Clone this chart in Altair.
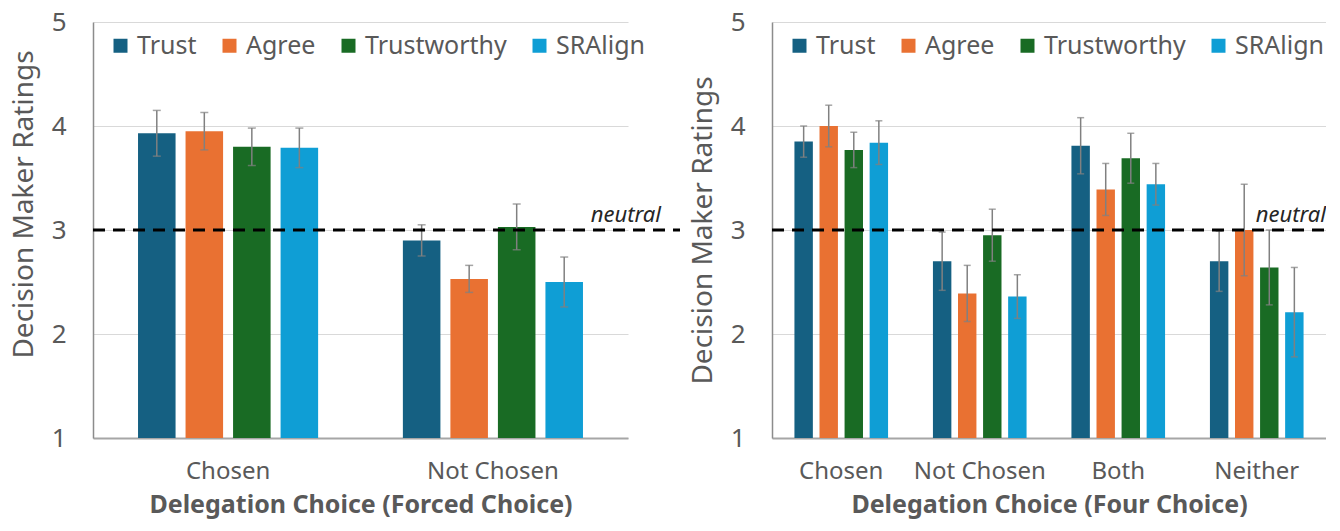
import altair as alt
import pandas as pd

series = ["Trust", "Agree", "Trustworthy", "SRAlign"]
colors = ["#156082", "#E97132", "#196B24", "#0F9ED5"]

# Forced choice panel
forced_cats = ["Chosen", "Not Chosen"]
forced_trust = [3.93, 2.90]
forced_agree = [3.95, 2.53]
forced_trustworthy = [3.80, 3.03]
forced_sralign = [3.79, 2.50]
forced_trust_err = [0.22, 0.15]
forced_agree_err = [0.18, 0.13]
forced_trustworthy_err = [0.18, 0.22]
forced_sralign_err = [0.19, 0.24]

# Four choice panel
four_cats = ["Chosen", "Not Chosen", "Both", "Neither"]
four_trust = [3.85, 2.70, 3.81, 2.70]
four_agree = [4.00, 2.39, 3.39, 3.00]
four_trustworthy = [3.77, 2.95, 3.69, 2.64]
four_sralign = [3.84, 2.36, 3.44, 2.21]
four_trust_err = [0.15, 0.28, 0.27, 0.29]
four_agree_err = [0.20, 0.27, 0.25, 0.44]
four_trustworthy_err = [0.17, 0.25, 0.24, 0.36]
four_sralign_err = [0.21, 0.21, 0.20, 0.43]

neutral_value = [3]

FONT = "Noto Sans"
GREY = "#595959"
PLOT_H = 416


def make_df(cats, vals, errs):
    rows = []
    for s, v, e in zip(series, vals, errs):
        for c, m, er in zip(cats, v, e):
            rows.append({"cat": c, "series": s, "mean": m, "lo": m - er, "hi": m + er})
    return pd.DataFrame(rows)


def panel(df, cats, width, pad_in, pad_out, off_pad, cap, xtitle, rule_end, neutral_x,
          leg_x, leg_y, ytitle_y=None):
    ytitle = "Decision Maker Ratings"
    yscale = alt.Scale(domain=[1, 5], nice=False, zero=False)
    axis_kw = dict(values=[1, 2, 3, 4, 5], format="d", title=ytitle)
    if ytitle_y is not None:
        axis_kw["titleY"] = ytitle_y
    yaxis = alt.Axis(**axis_kw)
    xenc = alt.X("cat:N", sort=cats,
                 scale=alt.Scale(paddingInner=pad_in, paddingOuter=pad_out),
                 axis=alt.Axis(title=xtitle, labelAngle=0))
    offenc = alt.XOffset("series:N", sort=series,
                         scale=alt.Scale(paddingInner=off_pad, paddingOuter=0))
    base = alt.Chart(df).encode(x=xenc, xOffset=offenc)

    bars = base.mark_bar().encode(
        y=alt.Y("mean:Q", scale=yscale, axis=yaxis, title=ytitle),
        y2=alt.datum(1),
        color=alt.Color("series:N", sort=series,
                        scale=alt.Scale(domain=series, range=colors),
                        legend=alt.Legend(orient="none", legendX=leg_x, legendY=leg_y,
                                          direction="horizontal", columns=4, title=None,
                                          symbolType="square", symbolSize=196,
                                          symbolStrokeWidth=0, labelFontSize=25,
                                          labelColor=GREY, labelFont=FONT,
                                          columnPadding=20, labelOffset=4)),
    )
    err = base.mark_rule(color="#808080", strokeWidth=1.5).encode(
        y=alt.Y("lo:Q", scale=yscale, title=ytitle), y2="hi:Q")
    cap_lo = base.mark_tick(color="#808080", thickness=1.5, size=cap).encode(
        y=alt.Y("lo:Q", scale=yscale, title=ytitle))
    cap_hi = base.mark_tick(color="#808080", thickness=1.5, size=cap).encode(
        y=alt.Y("hi:Q", scale=yscale, title=ytitle))

    ndf = pd.DataFrame({"v": neutral_value})
    nrule = alt.Chart(ndf).mark_rule(color="black", strokeWidth=3, strokeDash=[12, 8]).encode(
        y=alt.Y("v:Q", scale=yscale, title=ytitle), x=alt.value(0), x2=alt.value(rule_end))
    ntext = alt.Chart(ndf).mark_text(text="neutral", align="right", baseline="bottom",
                                     fontStyle="italic", fontSize=22, font=FONT,
                                     color="#262626", dy=-3).encode(
        y=alt.Y("v:Q", scale=yscale, title=ytitle), x=alt.value(neutral_x))

    return alt.layer(bars, err, cap_lo, cap_hi, nrule, ntext).properties(width=width, height=PLOT_H)


forced_df = make_df(forced_cats,
                    [forced_trust, forced_agree, forced_trustworthy, forced_sralign],
                    [forced_trust_err, forced_agree_err, forced_trustworthy_err, forced_sralign_err])
four_df = make_df(four_cats,
                  [four_trust, four_agree, four_trustworthy, four_sralign],
                  [four_trust_err, four_agree_err, four_trustworthy_err, four_sralign_err])

left = panel(forced_df, forced_cats, 535, 0.32, 0.17, 0.21, 8,
             "Delegation Choice (Forced Choice)", 587, 568, 15, 11, ytitle_y=182)
right = panel(four_df, four_cats, 554, 0.324, 0.162, 0.265, 7,
              "Delegation Choice (Four Choice)", 552, 554, 15, 11)

chart = alt.hconcat(left, right, spacing=7).resolve_scale(
    x="independent", xOffset="independent", y="independent", color="independent"
).resolve_legend(color="independent").properties(
    padding={"left": 2, "top": 1, "right": 0, "bottom": 4}
).configure_view(stroke=None).configure_axis(
    labelFont=FONT, titleFont=FONT, labelColor=GREY, titleColor=GREY,
).configure_axisY(
    labelFontSize=26, titleFontSize=28, titleFontWeight="normal",
    labelPadding=27, titlePadding=13, ticks=False,
    grid=True, gridColor="#d9d9d9", gridWidth=1,
    domain=True, domainColor="#8c8c8c", domainWidth=1.5,
).configure_axisX(
    labelFontSize=24, titleFontSize=25, titleFontWeight="bold",
    labelPadding=21, titlePadding=9, ticks=False, grid=False,
    domain=True, domainColor="#a6a6a6", domainWidth=2,
)

chart.save("out.html", embed_options={"renderer": "svg", "actions": False})
